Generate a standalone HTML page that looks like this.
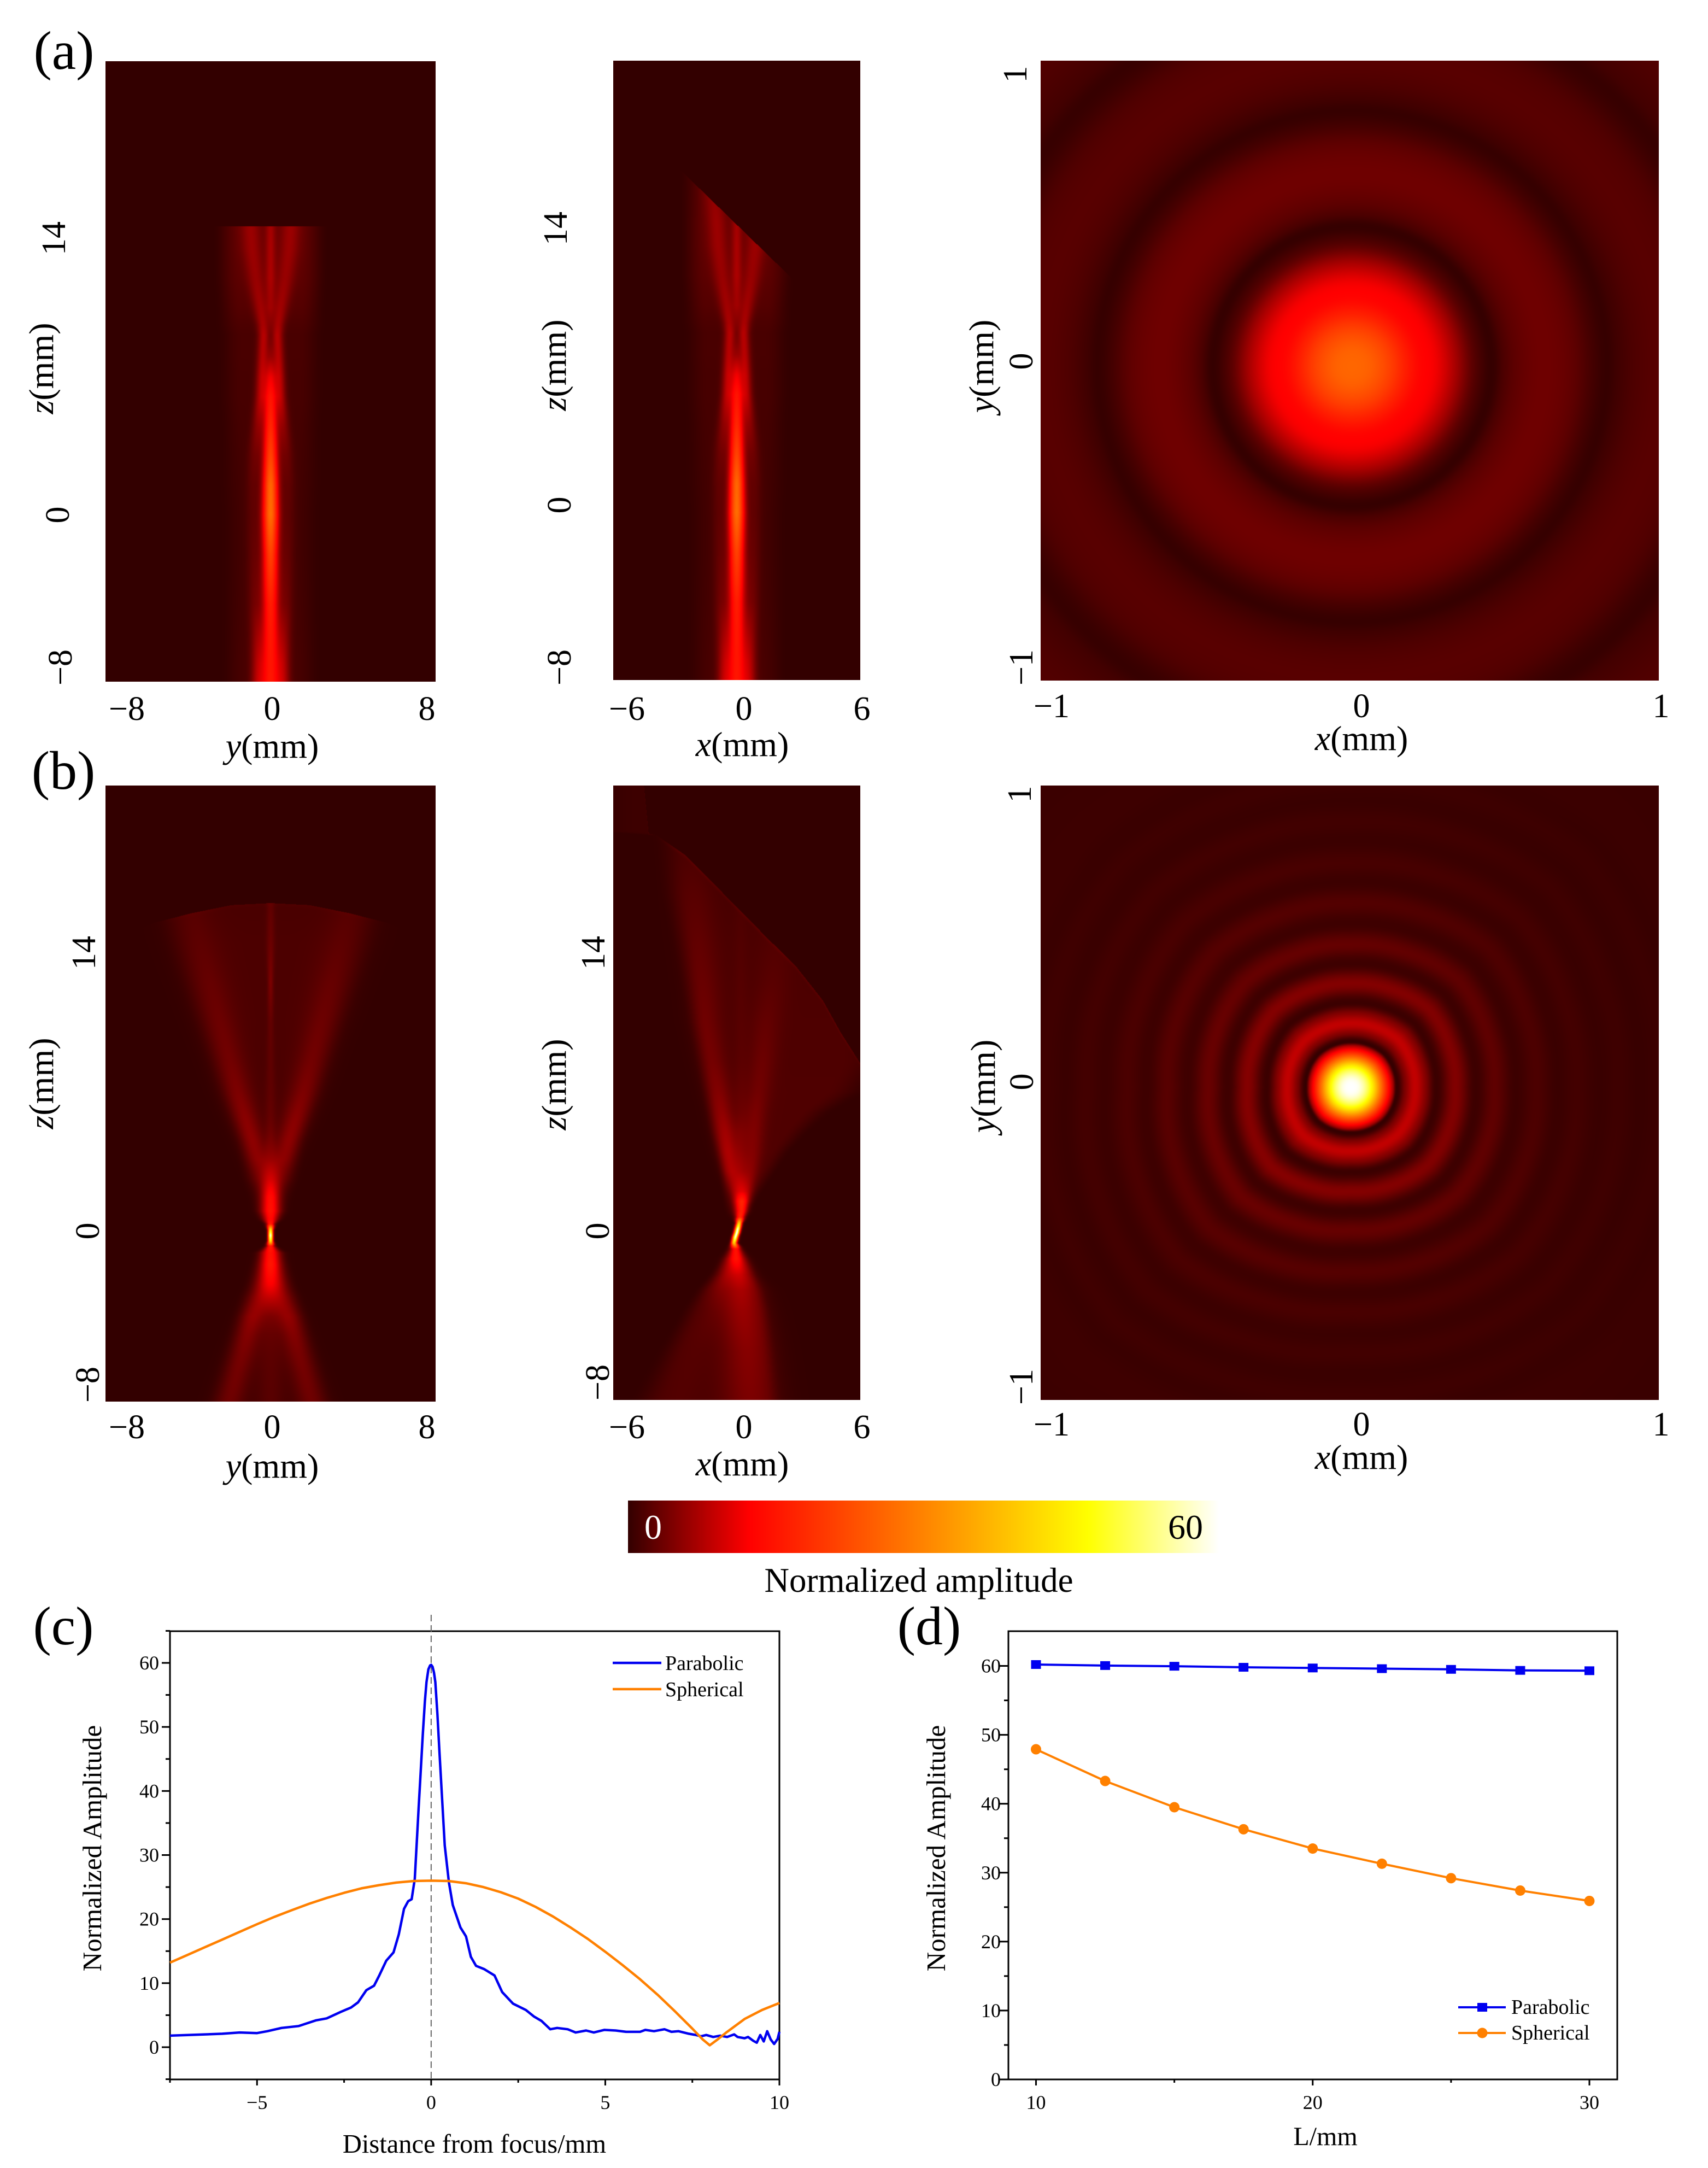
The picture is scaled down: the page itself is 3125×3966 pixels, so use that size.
<!DOCTYPE html>
<html lang="en">
<head>
<meta charset="utf-8">
<title>Beam focusing comparison figure</title>
<style>
html,body{margin:0;padding:0;background:#fff;}
#page{position:relative;width:3125px;height:3966px;background:#fff;overflow:hidden;font-family:"Liberation Serif",serif;}
canvas{position:absolute;display:block;}
svg{position:absolute;left:0;top:0;}
text{font-family:"Liberation Serif",serif;fill:#000;}
.tick{font-size:62px;text-anchor:middle;}
.lab{font-size:64px;text-anchor:middle;}
.panel{font-size:100px;text-anchor:middle;}
.it{font-style:italic;}
</style>
</head>
<body>
<div id="page">
<canvas id="hA1" width="604" height="1135" style="left:193px;top:112px"></canvas>
<canvas id="hA2" width="452" height="1133" style="left:1122px;top:111px"></canvas>
<canvas id="hA3" width="1131" height="1134" style="left:1904px;top:111px"></canvas>
<canvas id="hB1" width="604" height="1127" style="left:193px;top:1437px"></canvas>
<canvas id="hB2" width="452" height="1124" style="left:1122px;top:1437px"></canvas>
<canvas id="hB3" width="1131" height="1124" style="left:1904px;top:1437px"></canvas>
<canvas id="cbar" width="1081" height="96" style="left:1149px;top:2745px"></canvas>

<svg id="ov" width="3125" height="3966" viewBox="0 0 3125 3966">
  <text class="panel" x="117" y="126">(a)</text>
  <text class="panel" x="116" y="1443">(b)</text>
  <text class="panel" x="116" y="3008">(c)</text>
  <text class="panel" x="1700" y="3008">(d)</text>

  <!-- a1 -->
  <text class="tick" x="232" y="1317">−8</text>
  <text class="tick" x="498" y="1317">0</text>
  <text class="tick" x="781" y="1317">8</text>
  <text class="lab" x="498" y="1386"><tspan class="it">y</tspan>(mm)</text>
  <text class="tick" transform="translate(119 436) rotate(-90)">14</text>
  <text class="tick" transform="translate(126 942) rotate(-90)">0</text>
  <text class="tick" transform="translate(131 1221) rotate(-90)">−8</text>
  <text class="lab" transform="translate(97 674) rotate(-90)"><tspan class="it">z</tspan>(mm)</text>

  <!-- a2 -->
  <text class="tick" x="1147" y="1317">−6</text>
  <text class="tick" x="1361" y="1317">0</text>
  <text class="tick" x="1577" y="1317">6</text>
  <text class="lab" x="1358" y="1383"><tspan class="it">x</tspan>(mm)</text>
  <text class="tick" transform="translate(1037 418) rotate(-90)">14</text>
  <text class="tick" transform="translate(1044 924) rotate(-90)">0</text>
  <text class="tick" transform="translate(1044 1221) rotate(-90)">−8</text>
  <text class="lab" transform="translate(1035 668) rotate(-90)"><tspan class="it">z</tspan>(mm)</text>

  <!-- a3 -->
  <text class="tick" x="1924" y="1312">−1</text>
  <text class="tick" x="2491" y="1312">0</text>
  <text class="tick" x="3039" y="1312">1</text>
  <text class="lab" x="2491" y="1372"><tspan class="it">x</tspan>(mm)</text>
  <text class="tick" transform="translate(1878 136) rotate(-90)">1</text>
  <text class="tick" transform="translate(1889 661) rotate(-90)">0</text>
  <text class="tick" transform="translate(1889 1221) rotate(-90)">−1</text>
  <text class="lab" transform="translate(1817 670) rotate(-90)"><tspan class="it">y</tspan>(mm)</text>

  <!-- b1 -->
  <text class="tick" x="232" y="2631">−8</text>
  <text class="tick" x="498" y="2631">0</text>
  <text class="tick" x="781" y="2631">8</text>
  <text class="lab" x="498" y="2703"><tspan class="it">y</tspan>(mm)</text>
  <text class="tick" transform="translate(174 1743) rotate(-90)">14</text>
  <text class="tick" transform="translate(181 2252) rotate(-90)">0</text>
  <text class="tick" transform="translate(181 2533) rotate(-90)">−8</text>
  <text class="lab" transform="translate(97 1982) rotate(-90)"><tspan class="it">z</tspan>(mm)</text>

  <!-- b2 -->
  <text class="tick" x="1147" y="2631">−6</text>
  <text class="tick" x="1361" y="2631">0</text>
  <text class="tick" x="1577" y="2631">6</text>
  <text class="lab" x="1358" y="2699"><tspan class="it">x</tspan>(mm)</text>
  <text class="tick" transform="translate(1106 1743) rotate(-90)">14</text>
  <text class="tick" transform="translate(1114 2252) rotate(-90)">0</text>
  <text class="tick" transform="translate(1114 2529) rotate(-90)">−8</text>
  <text class="lab" transform="translate(1035 1984) rotate(-90)"><tspan class="it">z</tspan>(mm)</text>

  <!-- b3 -->
  <text class="tick" x="1924" y="2626">−1</text>
  <text class="tick" x="2491" y="2626">0</text>
  <text class="tick" x="3039" y="2626">1</text>
  <text class="lab" x="2491" y="2687"><tspan class="it">x</tspan>(mm)</text>
  <text class="tick" transform="translate(1886 1453) rotate(-90)">1</text>
  <text class="tick" transform="translate(1890 1979) rotate(-90)">0</text>
  <text class="tick" transform="translate(1889 2537) rotate(-90)">−1</text>
  <text class="lab" transform="translate(1820 1987) rotate(-90)"><tspan class="it">y</tspan>(mm)</text>

  <!-- colorbar text -->
  <text x="1195" y="2815" font-size="64" text-anchor="middle" style="fill:#fff">0</text>
  <text x="2169" y="2815" font-size="64" text-anchor="middle">60</text>
  <text x="1681" y="2912" font-size="63" text-anchor="middle">Normalized amplitude</text>

  <!-- chart c static -->
  <g id="chartC"></g>
  <text transform="translate(185 3381) rotate(-90)" font-size="49" text-anchor="middle">Normalized Amplitude</text>
  <text x="868" y="3938" font-size="48.5" text-anchor="middle">Distance from focus/mm</text>
  <line x1="1121" x2="1210" y1="3042" y2="3042" stroke="#0000f0" stroke-width="4.5"/>
  <line x1="1121" x2="1210" y1="3090" y2="3090" stroke="#ff8000" stroke-width="4.5"/>
  <text x="1217" y="3055" font-size="38">Parabolic</text>
  <text x="1217" y="3103" font-size="38">Spherical</text>

  <!-- chart d static -->
  <g id="chartD"></g>
  <text transform="translate(1729 3381) rotate(-90)" font-size="49" text-anchor="middle">Normalized Amplitude</text>
  <text x="2425" y="3924" font-size="48" text-anchor="middle">L/mm</text>
  <line x1="2668" x2="2755" y1="3672" y2="3672" stroke="#0000f0" stroke-width="4"/>
  <rect x="2703" y="3664" width="18" height="16" fill="#0000f0"/>
  <line x1="2668" x2="2755" y1="3719" y2="3719" stroke="#ff8000" stroke-width="4"/>
  <circle cx="2712" cy="3719" r="9.5" fill="#ff8000"/>
  <text x="2765" y="3684" font-size="38">Parabolic</text>
  <text x="2765" y="3731" font-size="38">Spherical</text>
</svg>
</div>

<script>
/* ---------- chart (c) values ---------- */
const cParabolicX = [-7.5,-7,-6.5,-6,-5.5,-5,-4.7,-4.3,-3.8,-3.3,-3,-2.6,-2.3,-2.1,-1.86,-1.64,-1.49,-1.29,-1.08,-0.93,-0.78,-0.66,-0.56,-0.47,-0.36,-0.3,-0.24,-0.18,-0.135,-0.08,-0.03,0,0.04,0.08,0.12,0.18,0.24,0.39,0.51,0.62,0.84,1,1.14,1.29,1.52,1.82,2.04,2.35,2.72,2.95,3.17,3.42,3.62,3.92,4.15,4.45,4.67,4.97,5.3,5.6,6,6.15,6.4,6.7,6.9,7.1,7.4,7.6,7.75,7.9,8.1,8.3,8.5,8.7,8.8,9,9.1,9.25,9.35,9.45,9.55,9.65,9.75,9.85,9.95,10];
const cParabolicY = [1.8,1.9,2,2.1,2.3,2.2,2.5,3,3.3,4.2,4.5,5.5,6.2,7,8.9,9.6,11.2,13.5,14.8,17.6,21.6,22.8,23.1,26.3,37.3,43,48.9,54,57,59,59.6,59.7,59.4,58.5,57,52,46,31.5,25.7,22.2,18.7,17.3,14.1,12.7,12.2,11.2,8.6,6.8,5.8,4.8,4.1,2.8,3,2.8,2.3,2.6,2.3,2.7,2.6,2.4,2.4,2.7,2.5,2.8,2.4,2.5,2.1,1.9,1.7,1.9,1.6,1.8,1.6,2,1.6,1.4,1.6,1,0.7,1.9,0.9,2.5,1.2,0.5,1.3,2.4];
const cSphericalX = [-7.5,-7,-6.5,-6,-5.5,-5,-4.5,-4,-3.5,-3,-2.5,-2,-1.5,-1,-0.5,0,0.5,1,1.5,2,2.5,3,3.5,4,4.5,5,5.5,6,6.5,7,7.5,7.8,8,8.2,8.5,9,9.5,10];
const cSphericalY = [13.2,14.4,15.6,16.8,18,19.2,20.35,21.4,22.4,23.3,24.1,24.8,25.3,25.7,25.95,26,25.95,25.6,25,24.2,23.2,21.9,20.4,18.7,16.9,14.9,12.8,10.6,8.2,5.6,2.9,1.2,0.3,1.1,2.4,4.4,5.8,6.9];
const cXMajor = [-5,0,5,10];
const cXMinor = [-7.5,-2.5,2.5,7.5];
const cYMajor = [0,10,20,30,40,50,60];
const cYMinor = [-5,5,15,25,35,45,55,65];

/* ---------- chart (d) values ---------- */
const dL = [10,12.5,15,17.5,20,22.5,25,27.5,30];
const dParabolic = [60.2,60.05,59.95,59.8,59.7,59.6,59.5,59.35,59.3];
const dSpherical = [47.9,43.3,39.5,36.3,33.5,31.3,29.2,27.4,25.9];
const dXMajor = [10,20,30];
const dXMinor = [15,25];
const dYMajor = [0,10,20,30,40,50,60];
const dYMinor = [5,15,25,35,45,55];

/* ---------- heatmap (a) beam section, read per z row ---------- */
const aZ        = [-8.5,-7.5,-6,-4.5,-2,0,1.5,3,4.5,6,7,8,8.6,9.1,9.6,10.5,12,13.5,14.7,17.5];
const aCenter   = aZ.map(() => 0);
const aAxisAmp  = [13.5,13.5,14,15,20,26,25,20,16,13,9,3,1,0.1,1,3,4.3,4.3,4,2];
const aAxisW    = [0.33,0.32,0.31,0.3,0.28,0.28,0.27,0.26,0.25,0.23,0.2,0.16,0.13,0.12,0.13,0.16,0.18,0.18,0.18,0.18];
const aLobeR    = [0.65,0.65,0.7,0.8,0.85,0.9,0.9,0.8,0.65,0.5,0.45,0.4,0.37,0.35,0.38,0.5,0.75,0.95,1.03,1.3];
const aLobeL    = aLobeR.map(v => -v);
const aLobeAmp  = [6,5.5,4,2.5,2,1.6,1.8,2.5,4,6.5,7,6.5,6.5,6.5,5.5,4.5,3.6,3.6,3.6,3];
const aLobeW    = [0.25,0.25,0.25,0.25,0.25,0.25,0.25,0.25,0.22,0.2,0.2,0.2,0.2,0.2,0.22,0.27,0.33,0.35,0.35,0.4];
const aFanAmp   = [1.2,1.2,1.1,1,0.9,0.9,0.9,1,1.1,1.2,1.2,1.3,1.3,1.3,1.5,2,2.4,2.6,2.6,2];
const aEdgeR    = [2.6,2.6,2.6,2.6,2.6,2.6,2.7,2.7,2.7,2.8,2.8,2.8,2.8,2.8,2.9,2.9,3,3,3,3];
const aEdgeL    = aEdgeR.map(v => -v);
const a1CutX    = [-9,9];
const a1CutZ    = [14.6,14.6];
const a2CutX    = [-6.4,-2.96,2.18,4.2,6.4];
const a2CutZ    = [20.9,17.43,12.48,10.5,8.4];

/* ---------- heatmap (b) y-z section ---------- */
const bZ        = [-8.6,-7.2,-6.2,-5.2,-4.3,-3.3,-2.7,-1.7,-1.1,-0.75,-0.5,-0.22,0.05,0.35,0.6,1,1.7,2.6,3.6,4.6,5.6,7,8.6,10.5,12.5,14.5,17];
const bCenter   = bZ.map(() => 0);
const bAxisAmp  = [1.4,1.5,1.6,1.9,2.5,5.5,9,14,14,16,45,60,45,16,13,14,12.5,6,2.6,2,1.6,1.3,1.2,1.3,2.8,1.8,1.2];
const bAxisW    = [0.5,0.5,0.5,0.45,0.42,0.42,0.42,0.36,0.33,0.14,0.085,0.08,0.085,0.14,0.25,0.33,0.33,0.32,0.3,0.2,0.2,0.2,0.15,0.12,0.1,0.15,0.15];
const bLobeR    = [2.15,1.75,1.45,1.18,0.92,0.6,0.45,0.3,0.2,0.1,0.1,0.1,0.1,0.1,0.15,0.2,0.3,0.45,0.65,0.95,1.3,1.75,2.2,2.75,3.3,3.9,4.6];
const bLobeL    = bLobeR.map(v => -v);
const bLobeAmp  = [2.8,3,3.3,3.9,4.8,4,2.5,0.5,0,0,0,0,0,0,0,0,0.5,2.8,4.2,4.3,4,3.2,2.5,2.1,1.7,1.2,0.8];
const bLobeW    = [0.55,0.52,0.5,0.46,0.44,0.4,0.36,0.3,0.2,0.1,0.1,0.1,0.1,0.1,0.2,0.25,0.3,0.38,0.42,0.46,0.5,0.56,0.62,0.7,0.8,0.9,0.9];
const bFanAmp   = [0.8,0.8,0.8,0.8,0.8,0.8,0.8,0.5,0.3,0.1,0.1,0.1,0.1,0.1,0.3,0.5,0.6,0.9,1,1.1,1.2,1.3,1.4,1.5,1.5,1.5,1.3];
const bEdgeR    = [3.3,3,2.7,2.4,2.1,1.8,1.5,1.2,0.8,0.4,0.3,0.3,0.3,0.4,0.8,1,1.3,1.6,1.8,1.9,2.2,2.8,3.4,4.1,4.9,5.7,6.6];
const bEdgeL    = bEdgeR.map(v => -v);
const bCutX     = [-7,-6,-4,-2,0,2,4,6,7];
const bCutZ     = [15.1,15.5,16,16.4,16.5,16.4,16,15.5,15.1];

/* ---------- heatmap (b) x-z section ---------- */
const eZ        = [-8.6,-6,-4,-3,-2.2,-1.4,-0.9,-0.6,-0.3,-0.1,0.1,0.4,0.7,1,1.5,2,3,4,5,6,7,8.5,10.5,12.5,14.5,17,19.9,20.1,23];
const eCenter   = [0.7,0.55,0.3,0.2,0.1,0,-0.05,-0.14,-0.07,0,0.05,0.12,0.17,0.2,0.2,0.2,0.2,0.2,0.2,0.2,0.2,0.2,0.2,0.2,0.2,0.2,0.2,0.2,0.2];
const eAxisAmp  = [3,3.6,4.6,5.5,8,13,14,40,58,60,58,40,16,13,12,7,3,2,1.5,1,0.8,0.6,0.5,0.5,0.4,0.3,0.3,0.3,0.3];
const eAxisW    = [1,0.9,0.8,0.7,0.45,0.28,0.18,0.1,0.095,0.095,0.095,0.1,0.16,0.22,0.24,0.24,0.25,0.25,0.25,0.25,0.25,0.25,0.25,0.25,0.25,0.25,0.25,0.25,0.25];
const eLobeL    = [-3,-2.2,-1.3,-1,-0.6,-0.4,-0.3,-0.2,-0.2,-0.2,-0.2,-0.2,-0.1,0,-0.05,-0.15,-0.3,-0.45,-0.6,-0.78,-0.95,-1.25,-1.6,-1.75,-1.95,-2.2,-2.5,-2.5,-2.5];
const eAmpL     = [0.6,0.6,0.8,1.5,3,3,1,0,0,0,0,0,0,0,1.5,3.5,5.5,5.5,4.8,3.8,3,2.3,2,1.7,1.4,1,0.5,0,0];
const eLobeR    = [2,1.8,1.4,1,0.7,0.5,0.3,0.2,0.2,0.2,0.2,0.2,0.25,0.3,0.4,0.55,0.7,0.8,0.85,0.95,1.1,1.3,1.5,1.8,2,2,2,2,2];
const eAmpR     = [0,0,0,0,0.5,0.5,0,0,0,0,0,0,1,3,5,4.5,3.5,3,2.8,2.5,2,1.8,1.3,0.8,0.5,0.3,0,0,0];
const eLobeW    = [0.8,0.7,0.5,0.4,0.3,0.25,0.15,0.1,0.1,0.1,0.1,0.1,0.12,0.15,0.2,0.22,0.3,0.36,0.4,0.42,0.46,0.5,0.55,0.6,0.65,0.7,0.7,0.7,0.7];
const eFanAmp   = [1.3,1.4,1.5,1.5,1.2,0.7,0.3,0.1,0.1,0.1,0.1,0.1,0.3,0.6,1,1.2,1.6,1.7,1.7,1.7,1.7,1.6,1.6,1.5,1.4,1.2,0.7,0.6,0.6];
const eEdgeL    = [-5.6,-4.1,-2.9,-2.2,-1.5,-0.9,-0.6,-0.4,-0.3,-0.3,-0.3,-0.4,-0.6,-0.7,-0.8,-0.9,-1,-1.2,-1.5,-1.7,-1.9,-2.2,-2.6,-3,-3.4,-4,-4.4,-7.5,-7.5];
const eEdgeR    = [2.4,2.1,1.8,1.5,1.1,0.8,0.5,0.4,0.3,0.3,0.3,0.4,0.5,0.75,1.1,1.4,2.1,2.8,3.8,5,6.8,8,8,8,8,8,8,8,8];
const eCutX     = [-6.4,-4.8,-4.5,-4.08,-2.6,-1.2,0.2,1.6,3,4.4,5.3,6.4];
const eCutZ     = [23,23,20,19.9,18.9,17.5,16.1,14.7,13.35,11.6,10,8.3];

/* ---------- focal-plane radial profiles ---------- */
const a3Radius    = [0,0.05,0.09,0.128,0.17,0.217,0.27,0.33,0.383,0.42,0.453,0.49,0.53,0.6,0.66,0.72,0.78,0.824,0.86,0.92,1,1.1,1.21,1.27,1.4,1.6];
const a3Amplitude = [26,25.4,23.3,20.4,16.5,13,11.5,7.3,2.9,1,0.15,1.5,2.6,3.5,3.4,2.6,1,0.2,0.8,1.7,2.2,1.8,0.25,1,1.8,1.8];
const b3Radius    = [0,0.03,0.064,0.096,0.12,0.135,0.147,0.175,0.207,0.24,0.275,0.338,0.4,0.465,0.53,0.6,0.665,0.73,0.8,0.865,0.93,1,1.06,1.13,1.3,1.6];
const b3Amplitude = [60,58,47,28,14,7,0.2,4.5,8.5,5,0.5,4.8,0.7,3,0.7,2,0.6,1.3,0.5,0.9,0.4,0.7,0.4,0.6,0.5,0.5];
const b3Angle     = [0,22.5,45,67.5,90,112.5,135,157.5,180,202.5,225,247.5,270,292.5,315,337.5,360];
const b3Stretch   = [1,1.02,1.06,1.02,1,1.01,1.04,1.01,0.99,1.03,1.08,1.03,1,1.02,1.05,1.02,1];
const b3Strength  = [0.75,0.77,0.8,0.88,0.95,0.98,1,1.05,1.1,1.1,1.1,1.05,1,0.95,0.85,0.8,0.75];

/* ---------- scales ---------- */
function linear(d0,p0,d1,p1){
  const k=(p1-p0)/(d1-d0);
  const f=v=>p0+(v-d0)*k;
  f.invert=p=>d0+(p-p0)/k;
  return f;
}
const a1X=linear(0,495,8,781),  a1Y=linear(0,942,14,436);
const a2X=linear(0,1348,6,1563),a2Y=linear(0,938,14,432);
const a3X=linear(0,2474,1,3039),a3Y=linear(0,670,1,103);
const b1X=linear(0,495,8,781),  b1Y=linear(0,2252,14,1743);
const b2X=linear(0,1348,6,1563),b2Y=linear(0,2252,14,1743);
const b3X=linear(0,2472,1,3037),b3Y=linear(0,1989,1,1427);
const cbX=linear(0,1149,60,2230);
const cX=linear(-7.5,311,10,1426), cY=linear(60,3042,0,3745);
const dX=linear(10,1895.5,30,2908), dY=linear(60,3047.5,0,3804);

/* ---------- colour map: 0 – 60 ---------- */
function ampColor(v){
  const t=Math.max(0,Math.min(1,v/60));
  if(t<0.204) return [51+204*t/0.204,0,0];
  if(t<0.778) return [255,255*(t-0.204)/0.574,0];
  return [255,255,255*(t-0.778)/0.222];
}
function lerp(xs,ys,x){
  const n=xs.length;
  if(x<=xs[0]) return ys[0];
  if(x>=xs[n-1]) return ys[n-1];
  let i=1; while(xs[i]<x) i++;
  const u=(x-xs[i-1])/(xs[i]-xs[i-1]);
  return ys[i-1]+(ys[i]-ys[i-1])*u;
}
function sstep(u){u=Math.max(0,Math.min(1,u));return u*u*(3-2*u);}

function drawBeam(id,left,top,X,Y,m){
  const cv=document.getElementById(id),ctx=cv.getContext('2d');
  const W=cv.width,H=cv.height,img=ctx.createImageData(W,H),d=img.data;
  const cut=new Float64Array(W),xv=new Float64Array(W);
  for(let c=0;c<W;c++){xv[c]=X.invert(left+c+0.5);cut[c]=lerp(m.cutX,m.cutZ,xv[c]);}
  for(let r=0;r<H;r++){
    const z=Y.invert(top+r+0.5);
    const cen=lerp(m.z,m.center,z),aa=lerp(m.z,m.axisAmp,z),aw=lerp(m.z,m.axisW,z),
      ll=lerp(m.z,m.lobeL,z),lr=lerp(m.z,m.lobeR,z),al=lerp(m.z,m.ampL,z),ar=lerp(m.z,m.ampR,z),
      lw=lerp(m.z,m.lobeW,z),fa=lerp(m.z,m.fanAmp,z),el=lerp(m.z,m.edgeL,z),er=lerp(m.z,m.edgeR,z);
    const fl=m.fadeK*Math.abs(el)+0.2,fr=m.fadeK*Math.abs(er)+0.2;
    for(let c=0;c<W;c++){
      const x=xv[c];let v=0;
      if(z<=cut[c]){
        const g0=(x-cen)/aw,g1=(x-ll)/lw,g2=(x-lr)/lw;
        const mask=sstep((x-el)/fl)*sstep((er-x)/fr);
        const dz=(z-cut[c])/0.14;
        v=aa*Math.exp(-0.5*g0*g0)+al*Math.exp(-0.5*g1*g1)+ar*Math.exp(-0.5*g2*g2)
          +fa*mask+m.rim*mask*Math.exp(-dz*dz);
      }
      const col=ampColor(v),i=(r*W+c)*4;
      d[i]=col[0];d[i+1]=col[1];d[i+2]=col[2];d[i+3]=255;
    }
  }
  ctx.putImageData(img,0,0);
}
function splineLUT(rs,vs,maxR,N){
  const lut=new Float64Array(N+1);
  for(let k=0;k<=N;k++){
    const r=maxR*k/N;let i=1;
    while(i<rs.length-1&&rs[i]<r) i++;
    const p1=vs[i-1],p2=vs[i],p0=i>1?vs[i-2]:p2,p3=i<rs.length-1?vs[i+1]:p2;
    const h=rs[i]-rs[i-1],u=Math.max(0,Math.min(1,(r-rs[i-1])/h));
    const h0=i>1?rs[i]-rs[i-2]:2*h,h1=i<rs.length-1?rs[i+1]-rs[i-1]:2*h;
    const m1=(p2-p0)/h0*h,m2=(p3-p1)/h1*h;
    const u2=u*u,u3=u2*u;
    lut[k]=Math.max(0,(2*u3-3*u2+1)*p1+(u3-2*u2+u)*m1+(-2*u3+3*u2)*p2+(u3-u2)*m2);
  }
  return lut;
}
function drawRadial(id,left,top,X,Y,rs,vs,angles,stretch,strength){
  const cv=document.getElementById(id),ctx=cv.getContext('2d');
  const W=cv.width,H=cv.height,img=ctx.createImageData(W,H),d=img.data;
  const N=4096,maxR=1.6,lut=splineLUT(rs,vs,maxR,N);
  for(let r=0;r<H;r++){
    const y=Y.invert(top+r+0.5);
    for(let c=0;c<W;c++){
      const x=X.invert(left+c+0.5);
      const rad0=Math.hypot(x,y);
      let rad=rad0,gain=1;
      if(angles){
        let a=Math.atan2(y,x)*180/Math.PI;if(a<0)a+=360;
        rad=rad0/(1+(lerp(angles,stretch,a)-1)*Math.min(1,rad0/0.3));
        gain=1+(lerp(angles,strength,a)-1)*Math.max(0,Math.min(1,(rad0-0.3)/0.3));
      }
      const v=lut[Math.min(N,Math.round(rad/maxR*N))]*gain;
      const col=ampColor(v),i=(r*W+c)*4;
      d[i]=col[0];d[i+1]=col[1];d[i+2]=col[2];d[i+3]=255;
    }
  }
  ctx.putImageData(img,0,0);
}

drawBeam('hA1',193,112,a1X,a1Y,{z:aZ,center:aCenter,axisAmp:aAxisAmp,axisW:aAxisW,lobeL:aLobeL,lobeR:aLobeR,ampL:aLobeAmp,ampR:aLobeAmp,lobeW:aLobeW,fanAmp:aFanAmp,edgeL:aEdgeL,edgeR:aEdgeR,cutX:a1CutX,cutZ:a1CutZ,fadeK:0.4,rim:0});
drawBeam('hA2',1122,111,a2X,a2Y,{z:aZ,center:aCenter,axisAmp:aAxisAmp,axisW:aAxisW,lobeL:aLobeL,lobeR:aLobeR,ampL:aLobeAmp,ampR:aLobeAmp,lobeW:aLobeW,fanAmp:aFanAmp,edgeL:aEdgeL,edgeR:aEdgeR,cutX:a2CutX,cutZ:a2CutZ,fadeK:0.4,rim:0});
drawBeam('hB1',193,1437,b1X,b1Y,{z:bZ,center:bCenter,axisAmp:bAxisAmp,axisW:bAxisW,lobeL:bLobeL,lobeR:bLobeR,ampL:bLobeAmp,ampR:bLobeAmp,lobeW:bLobeW,fanAmp:bFanAmp,edgeL:bEdgeL,edgeR:bEdgeR,cutX:bCutX,cutZ:bCutZ,fadeK:0.4,rim:0.3});
drawBeam('hB2',1122,1437,b2X,b2Y,{z:eZ,center:eCenter,axisAmp:eAxisAmp,axisW:eAxisW,lobeL:eLobeL,lobeR:eLobeR,ampL:eAmpL,ampR:eAmpR,lobeW:eLobeW,fanAmp:eFanAmp,edgeL:eEdgeL,edgeR:eEdgeR,cutX:eCutX,cutZ:eCutZ,fadeK:0.3,rim:0.8});
drawRadial('hA3',1904,111,a3X,a3Y,a3Radius,a3Amplitude,null,null,null);
drawRadial('hB3',1904,1437,b3X,b3Y,b3Radius,b3Amplitude,b3Angle,b3Stretch,b3Strength);

/* colorbar */
(function(){
  const cv=document.getElementById('cbar'),ctx=cv.getContext('2d');
  for(let c=0;c<cv.width;c++){
    const col=ampColor(cbX.invert(1149+c+0.5));
    ctx.fillStyle='rgb('+col[0]+','+col[1]+','+col[2]+')';
    ctx.fillRect(c,0,1,cv.height);
  }
})();

/* ---------- SVG charts ---------- */
const NS='http://www.w3.org/2000/svg';
function mk(parent,tag,attrs,txt){
  const el=document.createElementNS(NS,tag);
  for(const k in attrs) el.setAttribute(k,attrs[k]);
  if(txt!==undefined) el.textContent=txt;
  parent.appendChild(el);
  return el;
}
function pathOf(xs,ys,X,Y){
  return xs.map((v,i)=>(i?'L':'M')+X(v).toFixed(1)+' '+Y(ys[i]).toFixed(1)).join(' ');
}
function fmt(v){return v<0?'\u2212'+Math.abs(v):String(v);}

/* chart c */
(function(){
  const g=document.getElementById('chartC');
  const L=311,R=1426,T=2984,B=3804;
  const frame=mk(g,'rect',{x:L,y:T,width:R-L,height:B-T,fill:'none',stroke:'#000','stroke-width':3});
  
  
  cYMajor.forEach(v=>{
    const t=mk(g,'line',{x1:L-15,x2:L,y1:cY(v),y2:cY(v),stroke:'#000','stroke-width':3});
    
    
    const l=mk(g,'text',{x:L-20,y:cY(v)+12,'font-size':36,'text-anchor':'end'},fmt(v));
    
    
  });
  cYMinor.forEach(v=>{
    const t=mk(g,'line',{x1:L-8,x2:L,y1:cY(v),y2:cY(v),stroke:'#000','stroke-width':3});
    
    
  });
  cXMajor.forEach(v=>{
    const t=mk(g,'line',{x1:cX(v),x2:cX(v),y1:B,y2:B+11,stroke:'#000','stroke-width':3});
    
    
    const l=mk(g,'text',{x:cX(v),y:3858,'font-size':36,'text-anchor':'middle'},fmt(v));
    
    
  });
  cXMinor.forEach(v=>{
    const t=mk(g,'line',{x1:cX(v),x2:cX(v),y1:B,y2:B+6,stroke:'#000','stroke-width':3});
    
    
  });
  const ref=mk(g,'line',{x1:cX(0),x2:cX(0),y1:2954,y2:B,stroke:'#666','stroke-width':2,'stroke-dasharray':'12 7'});
  
  
  const p=mk(g,'path',{d:pathOf(cParabolicX,cParabolicY,cX,cY),fill:'none',stroke:'#0000f0','stroke-width':4.5,'stroke-linejoin':'round'});
  
  
  const s=mk(g,'path',{d:pathOf(cSphericalX,cSphericalY,cX,cY),fill:'none',stroke:'#ff8000','stroke-width':4.5,'stroke-linejoin':'round'});
  
  
})();

/* chart d */
(function(){
  const g=document.getElementById('chartD');
  const L=1845,R=2959,T=2984,B=3804;
  const frame=mk(g,'rect',{x:L,y:T,width:R-L,height:B-T,fill:'none',stroke:'#000','stroke-width':3});
  
  
  dYMajor.forEach(v=>{
    const t=mk(g,'line',{x1:L-16,x2:L,y1:dY(v),y2:dY(v),stroke:'#000','stroke-width':3});
    
    
    const l=mk(g,'text',{x:L-14,y:dY(v)+12,'font-size':36,'text-anchor':'end'},fmt(v));
    
    
  });
  dYMinor.forEach(v=>{
    const t=mk(g,'line',{x1:L-8,x2:L,y1:dY(v),y2:dY(v),stroke:'#000','stroke-width':3});
    
    
  });
  dXMajor.forEach(v=>{
    const t=mk(g,'line',{x1:dX(v),x2:dX(v),y1:B,y2:B+11,stroke:'#000','stroke-width':3});
    
    
    const l=mk(g,'text',{x:dX(v),y:3858,'font-size':36,'text-anchor':'middle'},fmt(v));
    
    
  });
  dXMinor.forEach(v=>{
    const t=mk(g,'line',{x1:dX(v),x2:dX(v),y1:B,y2:B+6,stroke:'#000','stroke-width':3});
    
    
  });
  const p=mk(g,'path',{d:pathOf(dL,dParabolic,dX,dY),fill:'none',stroke:'#0000f0','stroke-width':4});
  
  
  const s=mk(g,'path',{d:pathOf(dL,dSpherical,dX,dY),fill:'none',stroke:'#ff8000','stroke-width':4});
  
  
  dL.forEach((v,i)=>{
    const m=mk(g,'rect',{x:dX(v)-9,y:dY(dParabolic[i])-8,width:18,height:16,fill:'#0000f0'});
    
    
    const c=mk(g,'circle',{cx:dX(v),cy:dY(dSpherical[i]),r:9.5,fill:'#ff8000'});
    
    
  });
})();
</script>
</body>
</html>
